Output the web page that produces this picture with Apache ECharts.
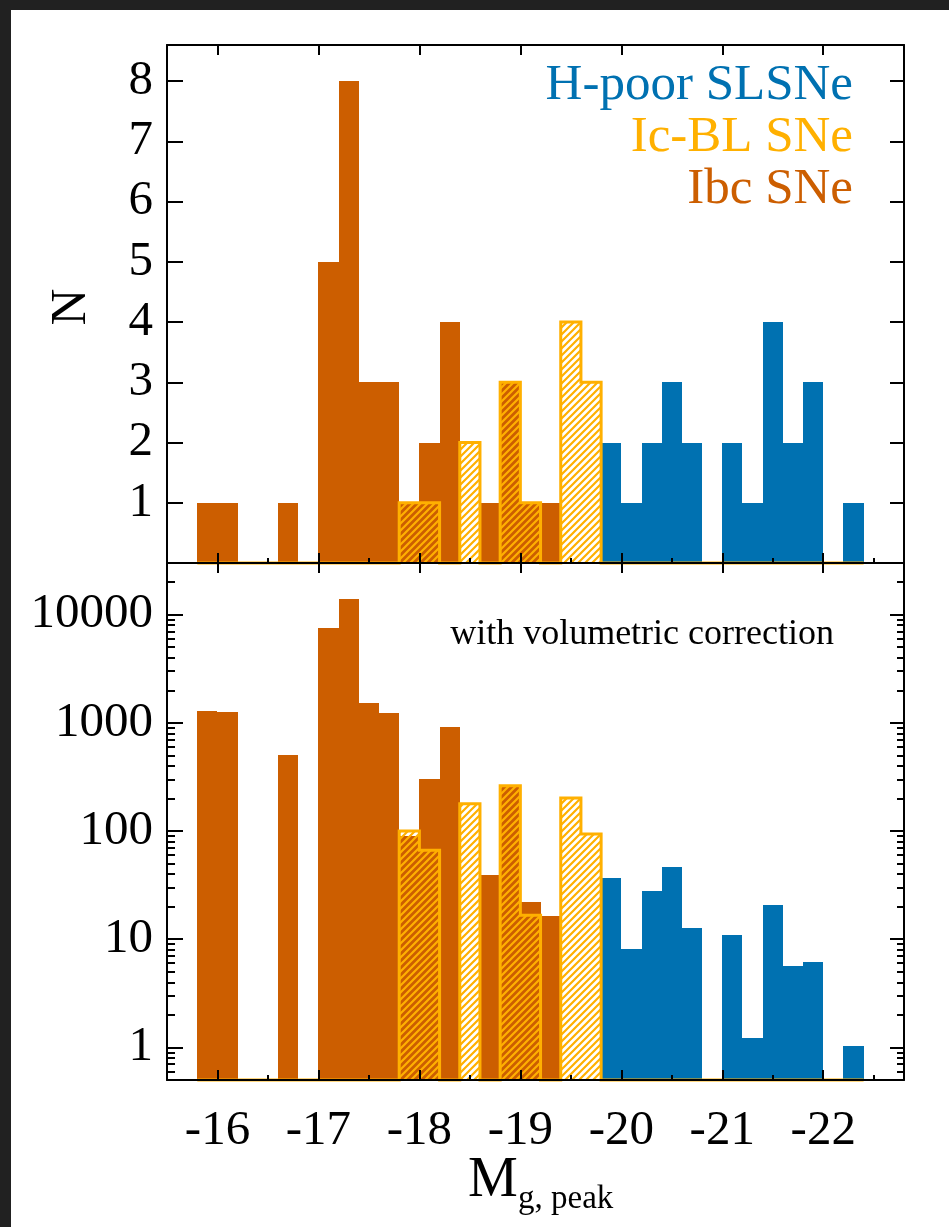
<!DOCTYPE html>
<html>
<head>
<meta charset="utf-8">
<script src="https://cdn.jsdelivr.net/npm/echarts/dist/echarts.min.js"></script>
<style>
  html, body { margin: 0; padding: 0; background: #212121; width: 949px; height: 1227px; overflow: hidden; }
  #chart { position: absolute; left: 11px; top: 10px; width: 938px; height: 1217px; background: #ffffff; }
</style>
</head>
<body>
<div id="chart"></div>
<script>
// ---- data (bin edges in M_g,peak, 0.2 mag bins) ----
const binEdges = [-15.8, -16.0, -16.2, -16.4, -16.6, -16.8, -17.0, -17.2, -17.4, -17.6,
                  -17.8, -18.0, -18.2, -18.4, -18.6, -18.8, -19.0, -19.2, -19.4, -19.6,
                  -19.8, -20.0, -20.2, -20.4, -20.6, -20.8, -21.0, -21.2, -21.4, -21.6,
                  -21.8, -22.0, -22.2, -22.4];
// top panel: raw counts per bin
const ibcN  = [1, 1, 0, 0, 1, 0, 5, 8, 3, 3, 1, 2, 4, 0, 1, 3, 1, 1, 0, 0, 0, 0, 0, 0, 0, 0, 0, 0, 0, 0, 0, 0, 0];
const icblN = [0, 0, 0, 0, 0, 0, 0, 0, 0, 0, 1, 1, 0, 2, 0, 3, 1, 0, 4, 3, 0, 0, 0, 0, 0, 0, 0, 0, 0, 0, 0, 0, 0];
const slsnN = [0, 0, 0, 0, 0, 0, 0, 0, 0, 0, 0, 0, 0, 0, 0, 0, 0, 0, 0, 0, 2, 1, 2, 3, 2, 0, 2, 1, 4, 2, 3, 0, 1];
// bottom panel: with volumetric correction
const ibcV  = [1295, 1250, 0, 0, 503, 0, 7460, 14000, 1517, 1231, 90, 302, 910, 0, 39, 260, 22.3, 16.4, 0, 0, 0, 0, 0, 0, 0, 0, 0, 0, 0, 0, 0, 0, 0];
const icblV = [0, 0, 0, 0, 0, 0, 0, 0, 0, 0, 100, 66.5, 0, 179, 0, 262, 16.7, 0, 202, 93.8, 0, 0, 0, 0, 0, 0, 0, 0, 0, 0, 0, 0, 0];
const slsnV = [0, 0, 0, 0, 0, 0, 0, 0, 0, 0, 0, 0, 0, 0, 0, 0, 0, 0, 0, 0, 36.9, 8.17, 27.7, 46.8, 12.8, 0, 11.0, 1.21, 20.8, 5.62, 6.14, 0, 1.02];
// tick labels
const xMajor = [-16, -17, -18, -19, -20, -21, -22];
const xMinor = [-16.5, -17.5, -18.5, -19.5, -20.5, -21.5, -22.5];
const yTopTicks = [1, 2, 3, 4, 5, 6, 7, 8];
const yLogMajor = [1, 10, 100, 1000, 10000];
const yLogMinor = [0.6, 0.7, 0.8, 0.9, 2, 3, 4, 5, 6, 7, 8, 9, 20, 30, 40, 50, 60, 70, 80, 90,
                   200, 300, 400, 500, 600, 700, 800, 900, 2000, 3000, 4000, 5000, 6000, 7000, 8000, 9000, 20000];

const C_IBC = '#CC5E00', C_SLSN = '#0071B1', C_ICBL = '#FFB000';
const FONT = "'Liberation Serif', 'Times New Roman', serif";
const X_MIN = -22.8, X_MAX = -15.5;
const LOG_MIN = 0.5, LOG_MAX = 30000;

function hatchCanvas(color) {
  const s = 7;
  const c = document.createElement('canvas');
  c.width = s; c.height = s;
  const g = c.getContext('2d');
  g.strokeStyle = color; g.lineWidth = 2.2;
  g.beginPath();
  g.moveTo(-2, s + 2); g.lineTo(s + 2, -2);
  g.moveTo(-2, 2); g.lineTo(2, -2);
  g.moveTo(s - 2, s + 2); g.lineTo(s + 2, s - 2);
  g.stroke();
  return c;
}
const hatch = hatchCanvas(C_ICBL);

function rows(vals) {
  const out = [];
  vals.forEach((v, k) => { if (v > 0) out.push([binEdges[k], binEdges[k + 1], v]); });
  return out;
}
function outline(vals, base) {
  const pts = [[binEdges[0], base]];
  vals.forEach((v, k) => {
    const h = v > 0 ? v : base;
    pts.push([binEdges[k], h]);
    pts.push([binEdges[k + 1], h]);
  });
  pts.push([binEdges[binEdges.length - 1], base]);
  return pts;
}
function barSeries(vals, base, xi, yi, fill, z) {
  return {
    type: 'custom', xAxisIndex: xi, yAxisIndex: yi, z: z, silent: true,
    encode: { x: [0, 1], y: 2 },
    data: rows(vals),
    renderItem: function (params, api) {
      const a = api.coord([api.value(0), api.value(2)]);
      const b = api.coord([api.value(1), base]);
      const x0 = Math.round(Math.min(a[0], b[0])), x1 = Math.round(Math.max(a[0], b[0]));
      const y0 = Math.round(Math.min(a[1], b[1])), y1 = Math.round(Math.max(a[1], b[1]));
      return {
        type: 'rect',
        shape: { x: x0, y: y0, width: x1 - x0, height: y1 - y0 },
        style: { fill: fill }
      };
    }
  };
}
function outlineSeries(vals, base, xi, yi) {
  return {
    type: 'line', xAxisIndex: xi, yAxisIndex: yi, z: 5, silent: true,
    showSymbol: false, symbol: 'none', clip: false,
    lineStyle: { color: C_ICBL, width: 3, join: 'miter' },
    data: outline(vals, base)
  };
}

const lineStyle = { color: '#000', width: 2 };
function xAxis(grid, pos, vals, len, showLine, labels) {
  return {
    type: 'value', gridIndex: grid, position: pos, min: X_MIN, max: X_MAX, inverse: true, z: 10,
    splitLine: { show: false },
    axisLine: { show: showLine, onZero: false, lineStyle: lineStyle },
    axisTick: { show: true, inside: true, length: len, lineStyle: lineStyle, customValues: vals },
    axisLabel: labels ? { show: true, customValues: xMajor, margin: 27, color: '#000', fontFamily: FONT, fontSize: 49,
                          formatter: v => String(v) } : { show: false }
  };
}
function yAxisLin(pos, len, labels) {
  return {
    type: 'value', gridIndex: 0, position: pos, min: 0, max: 8.6, z: 10,
    splitLine: { show: false },
    axisLine: { show: true, onZero: false, lineStyle: lineStyle },
    axisTick: { show: true, inside: true, length: len, lineStyle: lineStyle, customValues: yTopTicks },
    axisLabel: labels ? { show: true, customValues: yTopTicks, margin: 14, color: '#000', fontFamily: FONT, fontSize: 49 } : { show: false }
  };
}
function yAxisLog(pos, vals, len, showLine, labels) {
  return {
    type: 'log', logBase: 10, gridIndex: 1, position: pos, min: LOG_MIN, max: LOG_MAX, z: 10,
    splitLine: { show: false },
    axisLine: { show: showLine, onZero: false, lineStyle: lineStyle },
    axisTick: { show: true, inside: true, length: len, lineStyle: lineStyle, customValues: vals },
    axisLabel: labels ? { show: true, customValues: yLogMajor, margin: 14, color: '#000', fontFamily: FONT, fontSize: 49,
                          formatter: v => String(Math.round(v)) } : { show: false }
  };
}

const chart = echarts.init(document.getElementById('chart'), null, { renderer: 'canvas' });
chart.setOption({
  animation: false,
  backgroundColor: '#ffffff',
  grid: [
    { left: 156, top: 35, width: 737, height: 518, containLabel: false, outerBoundsMode: 'none' },
    { left: 156, top: 553, width: 737, height: 517, containLabel: false, outerBoundsMode: 'none' }
  ],
  xAxis: [
    xAxis(0, 'bottom', xMajor, 10, true, false),
    xAxis(0, 'bottom', xMinor, 5, false, false),
    xAxis(0, 'top', xMajor, 10, true, false),
    xAxis(1, 'bottom', xMajor, 10, true, true),
    xAxis(1, 'bottom', xMinor, 5, false, false),
    xAxis(1, 'top', xMajor, 10, true, false)
  ],
  yAxis: [
    yAxisLin('left', 16, true),
    yAxisLin('right', 14, false),
    yAxisLog('left', yLogMajor, 16, true, true),
    yAxisLog('left', yLogMinor, 8, false, false),
    yAxisLog('right', yLogMajor, 14, true, false),
    yAxisLog('right', yLogMinor, 7, false, false)
  ],
  series: [
    barSeries(ibcN, 0, 0, 0, C_IBC, 2),
    barSeries(slsnN, 0, 0, 0, C_SLSN, 2),
    barSeries(icblN, 0, 0, 0, { image: hatch, repeat: 'repeat' }, 3),
    outlineSeries(icblN, 0, 0, 0),
    barSeries(ibcV, LOG_MIN, 3, 2, C_IBC, 2),
    barSeries(slsnV, LOG_MIN, 3, 2, C_SLSN, 2),
    barSeries(icblV, LOG_MIN, 3, 2, { image: hatch, repeat: 'repeat' }, 3),
    outlineSeries(icblV, LOG_MIN, 3, 2)
  ],
  graphic: [
    { type: 'text', right: 938 - 842, top: 50, z: 20,
      style: { text: 'H-poor SLSNe', fill: C_SLSN, font: '51px ' + FONT } },
    { type: 'text', right: 938 - 842, top: 102, z: 20,
      style: { text: 'Ic-BL SNe', fill: C_ICBL, font: '51px ' + FONT } },
    { type: 'text', right: 938 - 842, top: 154, z: 20,
      style: { text: 'Ibc SNe', fill: C_IBC, font: '51px ' + FONT } },
    { type: 'text', right: 938 - 823, top: 607, z: 20,
      style: { text: 'with volumetric correction', fill: '#000', font: '36px ' + FONT } },
    { type: 'text', x: 61, y: 297, rotation: Math.PI / 2, z: 20,
      style: { text: 'N', fill: '#000', font: '51px ' + FONT, align: 'center', verticalAlign: 'middle' } },
    { type: 'text', x: 457, y: 1171, z: 20,
      style: { text: 'M', fill: '#000', font: '56px ' + FONT, align: 'left', verticalAlign: 'middle' } },
    { type: 'text', x: 507, y: 1189, z: 20,
      style: { text: 'g, peak', fill: '#000', font: '33px ' + FONT, align: 'left', verticalAlign: 'middle' } }
  ]
});
</script>
</body>
</html>
